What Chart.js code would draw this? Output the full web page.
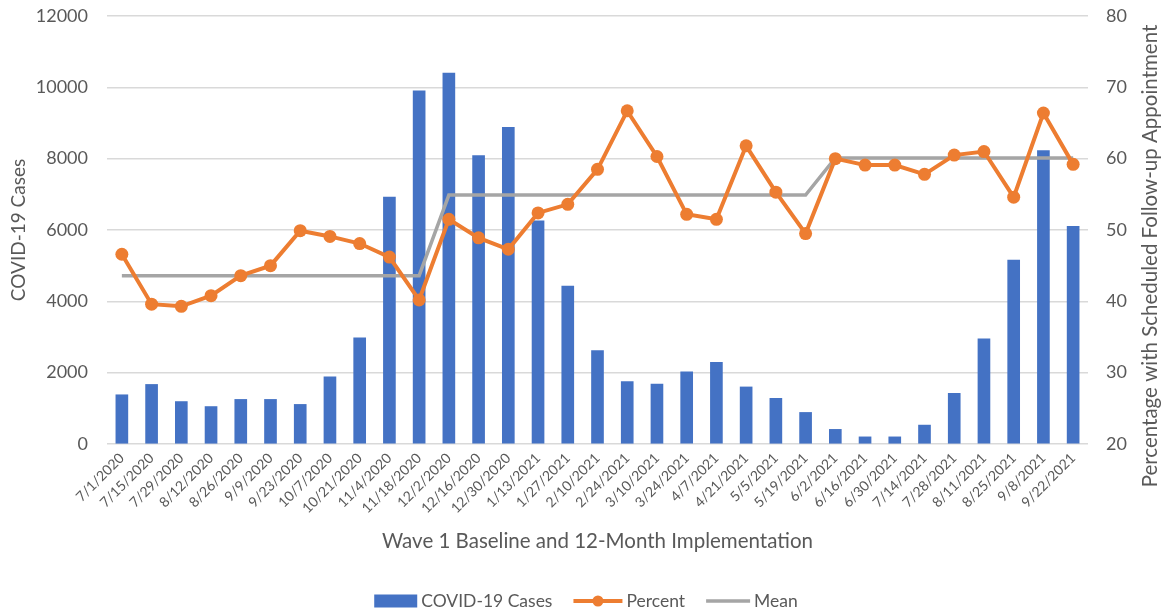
<!DOCTYPE html>
<html>
<head>
<meta charset="utf-8">
<script src="https://cdn.jsdelivr.net/npm/chart.js@4.4.1/dist/chart.umd.min.js"></script>
<style>
  html, body { margin: 0; padding: 0; background: #fff; }
  #wrap { width: 1161px; height: 612px; }
</style>
</head>
<body>
<div id="wrap"><canvas id="chart" width="1161" height="612"></canvas></div>
<script>
// ---- data ----
const DATES = [
  '7/1/2020', '7/15/2020', '7/29/2020', '8/12/2020', '8/26/2020', '9/9/2020',
  '9/23/2020', '10/7/2020', '10/21/2020', '11/4/2020', '11/18/2020', '12/2/2020',
  '12/16/2020', '12/30/2020', '1/13/2021', '1/27/2021', '2/10/2021', '2/24/2021',
  '3/10/2021', '3/24/2021', '4/7/2021', '4/21/2021', '5/5/2021', '5/19/2021',
  '6/2/2021', '6/16/2021', '6/30/2021', '7/14/2021', '7/28/2021', '8/11/2021',
  '8/25/2021', '9/8/2021', '9/22/2021'
];

const CASES = [
  1380, 1670, 1190, 1050, 1250, 1250, 1110, 1880, 2980, 6920, 9900, 10400,
  8090, 8880, 6260, 4430, 2620, 1750, 1680, 2020, 2290, 1600, 1280, 885,
  410, 200, 200, 530, 1420, 2950, 5160, 8230, 6100
];

const PERCENT = [
  46.6, 39.6, 39.3, 40.8, 43.6, 45.0, 49.9, 49.1, 48.1, 46.2, 40.2, 51.5,
  48.9, 47.3, 52.4, 53.6, 58.5, 66.7, 60.3, 52.2, 51.5, 61.8, 55.3, 49.5,
  60.0, 59.1, 59.1, 57.8, 60.5, 61.0, 54.6, 66.4, 59.2
];

const MEAN = [
  43.6, 43.6, 43.6, 43.6, 43.6, 43.6, 43.6, 43.6, 43.6, 43.6, 43.6, 54.9,
  54.9, 54.9, 54.9, 54.9, 54.9, 54.9, 54.9, 54.9, 54.9, 54.9, 54.9, 54.9,
  60.1, 60.1, 60.1, 60.1, 60.1, 60.1, 60.1, 60.1, 60.1
];

const CASES_AXIS = [0, 12000, 2000];   // min, max, step
const PERCENT_AXIS = [20, 80, 10];

const X_TITLE = 'Wave 1 Baseline and 12-Month Implementation';
const LEFT_TITLE = 'COVID-19 Cases';
const RIGHT_TITLE = 'Percentage with Scheduled Follow-up Appointment';

// ---- styling ----
const BLUE = '#4472C4';
const ORANGE = '#ED7D31';
const GRAY = '#A5A5A5';
const GRID = '#D9D9D9';
const TEXT = '#595959';
const FONT = 'Lato';

Chart.defaults.font.family = FONT;
Chart.defaults.color = TEXT;

// right axis title (reads bottom-to-top) and the legend row
const extras = {
  id: 'extras',
  afterDraw(chart) {
    const ctx = chart.ctx;
    const area = chart.chartArea;

    ctx.save();
    ctx.fillStyle = TEXT;
    ctx.font = `20.5px ${FONT}`;
    ctx.textAlign = 'center';
    ctx.textBaseline = 'middle';
    ctx.translate(chart.width - 11, (area.top + area.bottom) / 2 + 26);
    ctx.rotate(-Math.PI / 2);
    ctx.fillText(RIGHT_TITLE, 0, 0);
    ctx.restore();

    // legend
    ctx.save();
    ctx.font = `17.5px ${FONT}`;
    ctx.textBaseline = 'middle';
    ctx.textAlign = 'left';
    const ds = chart.data.datasets;
    const icons = [43, 49, 44];
    const gapIcon = 4, gapItem = 21;
    const widths = ds.map((d, i) => icons[i] + gapIcon + ctx.measureText(d.label).width);
    const total = widths.reduce((a, b) => a + b, 0) + gapItem * (ds.length - 1);
    let x = 586 - total / 2;
    const y = 601;
    ds.forEach((d, i) => {
      const w = icons[i];
      if (d.type === 'bar') {
        ctx.fillStyle = d.backgroundColor;
        ctx.fillRect(x, y - 6.5, w, 13);
      } else {
        ctx.strokeStyle = d.borderColor;
        ctx.lineWidth = d.borderWidth;
        ctx.beginPath();
        ctx.moveTo(x, y);
        ctx.lineTo(x + w, y);
        ctx.stroke();
        if (d.pointRadius > 0) {
          ctx.fillStyle = d.borderColor;
          ctx.beginPath();
          ctx.arc(x + w / 2, y, 5.5, 0, Math.PI * 2);
          ctx.fill();
        }
      }
      ctx.fillStyle = TEXT;
      ctx.fillText(d.label, x + w + gapIcon, y);
      x += widths[i] + gapItem;
    });
    ctx.restore();
  }
};

new Chart(document.getElementById('chart'), {
  data: {
    labels: DATES,
    datasets: [
      {
        type: 'bar',
        label: 'COVID-19 Cases',
        data: CASES,
        backgroundColor: BLUE,
        barThickness: 12,
        yAxisID: 'y',
        order: 2,
      },
      {
        type: 'line',
        label: 'Percent',
        data: PERCENT,
        borderColor: ORANGE,
        backgroundColor: ORANGE,
        borderWidth: 4,
        pointRadius: 6.5,
        pointBorderWidth: 0,
        pointBackgroundColor: ORANGE,
        tension: 0,
        yAxisID: 'y1',
        order: 0,
      },
      {
        type: 'line',
        label: 'Mean',
        data: MEAN,
        borderColor: GRAY,
        backgroundColor: GRAY,
        borderWidth: 3.5,
        pointRadius: 0,
        tension: 0,
        yAxisID: 'y1',
        order: 1,
      },
    ],
  },
  options: {
    responsive: false,
    animation: false,
    layout: { padding: { top: 16, bottom: 56, left: 0, right: 0 } },
    plugins: {
      legend: { display: false },
      tooltip: { enabled: false },
    },
    scales: {
      x: {
        grid: { display: false, drawTicks: false },
        border: { display: false },
        ticks: {
          autoSkip: false,
          minRotation: 45,
          maxRotation: 45,
          padding: 6,
          font: { size: 14 },
        },
        title: {
          display: true,
          text: X_TITLE,
          font: { size: 20.5 },
          padding: { top: 0, bottom: 2 },
        },
        afterFit: s => { s.height = 112; },
      },
      y: {
        position: 'left',
        min: CASES_AXIS[0],
        max: CASES_AXIS[1],
        // invisible tick marks give the label gap without padding the top
        grid: { color: GRID, lineWidth: 1.5, drawTicks: true, tickLength: 19, tickColor: 'rgba(0,0,0,0)' },
        border: { display: false },
        ticks: {
          stepSize: CASES_AXIS[2],
          padding: 0,
          font: { size: 18 },
          callback: v => String(v),
        },
        title: {
          display: true,
          text: LEFT_TITLE,
          font: { size: 19 },
          padding: { top: 7, bottom: 0 },
        },
        afterFit: s => { s.width = 107; },
      },
      y1: {
        position: 'right',
        min: PERCENT_AXIS[0],
        max: PERCENT_AXIS[1],
        grid: { display: false, drawTicks: true, tickLength: 18, tickColor: 'rgba(0,0,0,0)' },
        border: { display: false },
        ticks: { stepSize: PERCENT_AXIS[2], padding: 0, font: { size: 18 } },
        afterFit: s => { s.width = 73; },
      },
    },
  },
  plugins: [extras],
});
</script>
</body>
</html>
